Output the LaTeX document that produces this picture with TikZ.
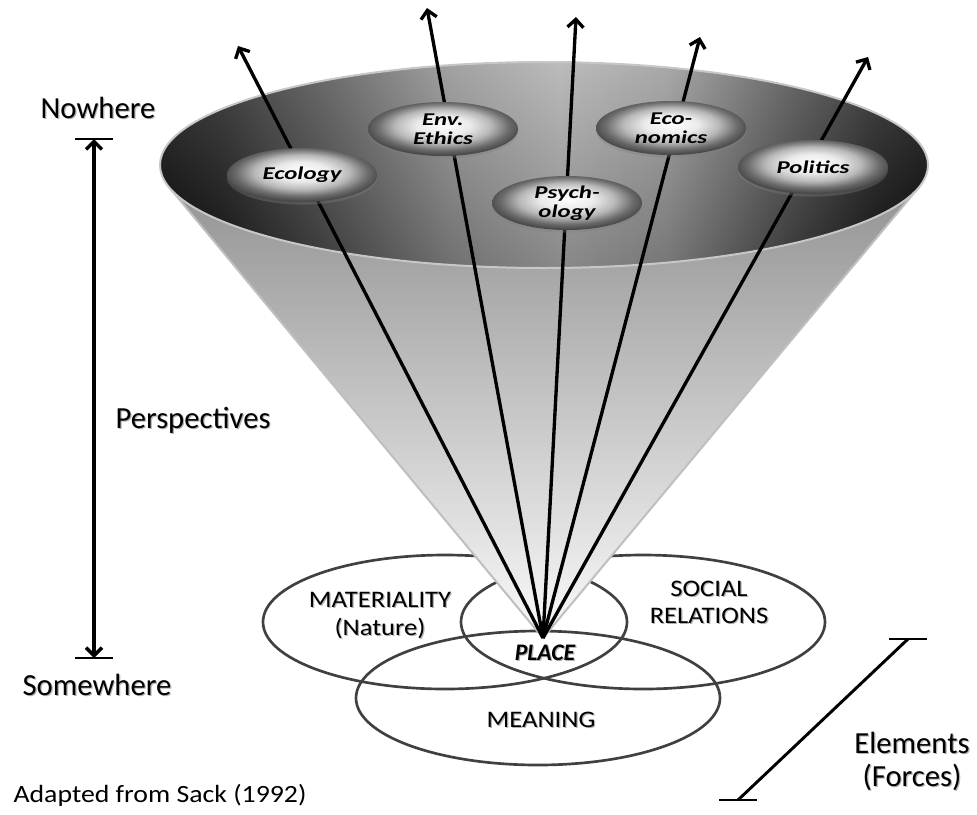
\documentclass[tikz,border=0pt]{standalone}
\usepackage{fontspec}
\setmainfont{Carlito}
\newfontfamily\widefont{Carlito}[FakeStretch=1.12]
\newfontfamily\bubblefont{Carlito}[FakeStretch=1.38]
\usetikzlibrary{shapes.geometric,shadows,arrows.meta}

% dark-to-light rim of the funnel and the glossy perspective bubbles
% (a path covers 25bp..75bp of a shading)
\pgfdeclarehorizontalshading{rimshade}{100bp}{color(0bp)=(black!97); color(25bp)=(black!97); color(29bp)=(black!90); color(36bp)=(black!70); color(44bp)=(black!45); color(51bp)=(black!33); color(58bp)=(black!42); color(66bp)=(black!72); color(71.5bp)=(black!90); color(75bp)=(black!97); color(100bp)=(black!97)}
\pgfdeclareradialshading{bubbleshade}{\pgfpoint{0bp}{4bp}}{color(0bp)=(white); color(9bp)=(black!8); color(16bp)=(black!28); color(22bp)=(black!58); color(27bp)=(black!75); color(50bp)=(black!75)}

\newcommand\softshadow[1]{\rlap{\kern.9pt\raisebox{-.9pt}{\textcolor{black!30}{#1}}}#1}

\begin{document}
\begin{tikzpicture}[x=.75pt,y=-.75pt,
  ray/.style={line width=2.5pt,-{Straight Barb[length=6pt,width=12pt]}},
  bubble/.style={ellipse,shade,shading=bubbleshade,minimum width=112.5pt,minimum height=40.5pt,inner sep=0pt,
    align=center,font=\bubblefont\bfseries\itshape\fontsize{13.5}{14.5}\selectfont,
    drop shadow={shadow xshift=0pt,shadow yshift=-2pt,opacity=.35}},
  venn/.style={draw=black!75,line width=2pt},
  lbl/.style={font=\fontsize{23}{25}\selectfont,align=center},
  elem/.style={font=\widefont\fontsize{17.8}{20.6}\selectfont,align=center},
  bar/.style={line width=1.5pt}]
\useasboundingbox (0,0) rectangle (977,814);

% three elements overlapping in place
\draw[venn] (445,622) ellipse [x radius=182, y radius=67];
\draw[venn] (643,622) ellipse [x radius=182, y radius=67];
\draw[venn] (538,698) ellipse [x radius=182, y radius=67];

% the funnel of perspectives
\coordinate (place) at (543,638);
\coordinate (coneL) at (169,187);
\coordinate (coneR) at (919,187);
\coordinate (rim) at (544,165);
\shade[top color=black!42,bottom color=black!2] (place) -- (coneL) -- (coneR) -- cycle;
\draw[black!25,line width=1.5pt] (coneL) -- (place) -- (coneR);
\shade[shading=rimshade] (rim) ellipse [x radius=384, y radius=103];
\shade[top color=white,bottom color=black,opacity=.2] (rim) ellipse [x radius=384, y radius=103];
\draw[black!22,line width=1.5pt] (rim) ellipse [x radius=384, y radius=103];

\coordinate (tipEco) at (238,46);
\coordinate (tipEnv) at (427,8);
\coordinate (tipPsy) at (576,17);
\coordinate (tipEcon) at (700,37);
\coordinate (tipPol) at (868,57);
\foreach \t in {tipEco,tipEnv,tipPsy,tipEcon,tipPol}
  \draw[ray] (place) -- (\t);

\node[bubble] (ecology) at (302,175) {Ecology};
\node[bubble] (envethics) at (443,129) {Env.\\Ethics};
\node[bubble] (psychology) at (567,203) {Psych-\\ology};
\node[bubble] (economics) at (671,128) {Eco-\\nomics};
\node[bubble] (politics) at (813,167) {Politics};

% labels of the elements
\node[elem] (materiality) at (380,616) {\softshadow{MATERIALITY}\\\softshadow{(Nature)}};
\node[elem] (social) at (709,603) {\softshadow{SOCIAL}\\\softshadow{RELATIONS}};
\node[elem,anchor=base] (meaning) at (541,727) {\softshadow{MEANING}};
\node[font=\bfseries\itshape\fontsize{17.8}{20}\selectfont,anchor=base] (placelbl) at (545,660) {\softshadow{PLACE}};

% scale from somewhere to nowhere
\coordinate (nowhereTick) at (94,139);
\coordinate (somewhereTick) at (94,658);
\draw[bar] ([xshift=-14.25pt]nowhereTick) -- ([xshift=14.25pt]nowhereTick);
\draw[bar] ([xshift=-14.25pt]somewhereTick) -- ([xshift=14.25pt]somewhereTick);
\draw[line width=2.6pt,{Straight Barb[length=6pt,width=12pt]}-{Straight Barb[length=6pt,width=12pt]}] (nowhereTick) -- (somewhereTick);
\node[lbl,anchor=base] (nowhere) at (98,118) {\softshadow{Nowhere}};
\node[lbl,anchor=base] (somewhere) at (97,695) {\softshadow{Somewhere}};
\node[lbl,anchor=base] (perspectives) at (193,428) {\softshadow{Perspectives}};

% scale of the elements
\coordinate (elemTop) at (908,639);
\coordinate (elemBot) at (738,800);
\draw[bar] ([xshift=-14pt]elemTop) -- ([xshift=14pt]elemTop);
\draw[bar] ([xshift=-14pt]elemBot) -- ([xshift=14pt]elemBot);
\draw[line width=2.2pt] (elemTop) -- (elemBot);
\node[lbl] (elements) at (912,762) {\softshadow{Elements}\\\softshadow{(Forces)}};

\node[font=\widefont\fontsize{18.6}{20}\selectfont,anchor=base] (source) at (160,802) {Adapted from Sack (1992)};
\end{tikzpicture}
\end{document}
